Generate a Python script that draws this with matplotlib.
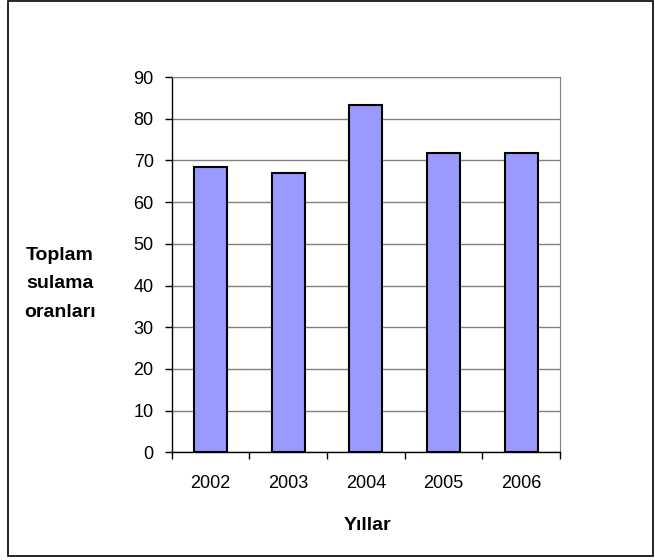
import matplotlib
matplotlib.use("Agg")
import matplotlib.pyplot as plt
from matplotlib.patches import Rectangle
import numpy as np

years = ["2002", "2003", "2004", "2005", "2006"]
rates = [68.5, 67.0, 83.4, 71.8, 71.8]
y_ticks = [0, 10, 20, 30, 40, 50, 60, 70, 80, 90]

plt.rcParams["font.family"] = ["Liberation Sans", "DejaVu Sans"]

W, H = 655, 560
fig = plt.figure(figsize=(W / 100, H / 100), dpi=100)

# chart border
fig.patches.append(Rectangle((8 / W, 1 - 556 / H), (653 - 8) / W, (556 - 1) / H,
                             transform=fig.transFigure, fill=False,
                             edgecolor="black", linewidth=1.2))

left, right, top, bottom = 171.7, 560, 77, 452.3
ax = fig.add_axes([left / W, 1 - bottom / H, (right - left) / W, (bottom - top) / H])

x = np.arange(len(years))
ax.bar(x, rates, width=0.425, color="#9999FF", edgecolor="black", linewidth=1.5, zorder=3)

ax.set_xlim(-0.5, len(years) - 0.5)
ax.set_ylim(0, 90)
ax.set_yticks(y_ticks)
ax.set_yticklabels([str(v) for v in y_ticks], fontsize=13)
ax.yaxis.grid(True, color="#808080", linewidth=1.0, zorder=0)

ax.set_xticks(x)
ax.set_xticklabels(years, fontsize=13)
ax.tick_params(axis="x", length=0, pad=16)
ax.set_xticks(np.arange(len(years) + 1) - 0.5, minor=True)
ax.tick_params(axis="x", which="minor", length=5, width=1, color="black")
ax.tick_params(axis="y", length=5, width=1, color="black", pad=8)

ax.spines["left"].set_color("black")
ax.spines["bottom"].set_color("black")
ax.spines["left"].set_linewidth(1.0)
ax.spines["bottom"].set_linewidth(1.0)
ax.spines["top"].set_color("#808080")
ax.spines["right"].set_color("#808080")

fig.text(60 / W, 1 - 284 / H, "Toplam\nsulama\noranları", ha="center", va="center",
         fontsize=14, fontweight="bold", linespacing=1.9)
fig.text(367 / W, 1 - 525 / H, "Yıllar", ha="center", va="center",
         fontsize=14, fontweight="bold")

fig.savefig("out.png", dpi=100)
